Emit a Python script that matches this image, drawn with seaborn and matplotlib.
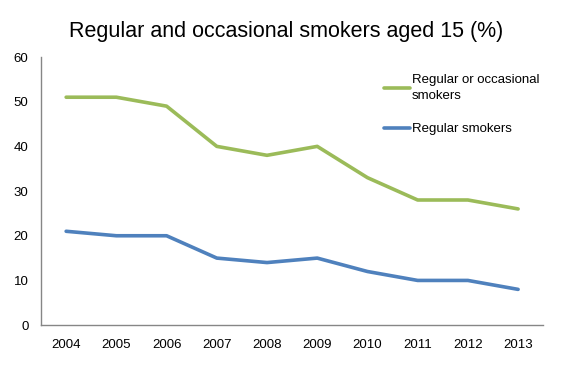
import pandas as pd
import matplotlib
matplotlib.use("Agg")
import matplotlib.pyplot as plt
import seaborn as sns

# Data
years = ["2004", "2005", "2006", "2007", "2008", "2009", "2010", "2011", "2012", "2013"]
occasional = [51, 51, 49, 40, 38, 40, 33, 28, 28, 26]
regular = [21, 20, 20, 15, 14, 15, 12, 10, 10, 8]
series_names = ["Regular or occasional\nsmokers", "Regular smokers"]

df = pd.DataFrame({
    "Year": years * 2,
    "Value": occasional + regular,
    "Series": [series_names[0]] * len(years) + [series_names[1]] * len(years),
})

sns.set_style("white")
plt.rcParams["font.family"] = ["Liberation Sans", "DejaVu Sans"]
plt.rcParams["text.color"] = "black"
plt.rcParams["xtick.color"] = "black"
plt.rcParams["ytick.color"] = "black"

fig = plt.figure(figsize=(5.7, 3.75), dpi=100)
ax = fig.add_axes([0.072, 0.133, 0.881, 0.715])

sns.lineplot(data=df, x="Year", y="Value", hue="Series",
             palette=["#9BBB59", "#4F81BD"], linewidth=2.6, sort=False, ax=ax)

ax.set_xlim(-0.5, 9.5)
ax.set_ylim(0, 60)
ax.set_yticks(range(0, 61, 10))
ax.set_xlabel("")
ax.set_ylabel("")
ax.tick_params(axis="x", labelsize=9.5, length=0, pad=10)
ax.tick_params(axis="y", labelsize=9.5, length=0, pad=9)
for s in ["top", "right"]:
    ax.spines[s].set_visible(False)
for s in ["left", "bottom"]:
    ax.spines[s].set_color("#868686")
    ax.spines[s].set_linewidth(1)

leg = ax.legend(title=None, frameon=False, fontsize=9.5, loc="upper left",
                bbox_to_anchor=(0.66, 0.98), handlelength=1.95, handletextpad=0.15,
                labelspacing=1.6)
for t in leg.get_texts():
    t.set_linespacing(1.4)

fig.suptitle("Regular and occasional smokers aged 15 (%)", fontsize=15.5, x=0.502, y=0.945)

fig.savefig("out.png", dpi=100)
